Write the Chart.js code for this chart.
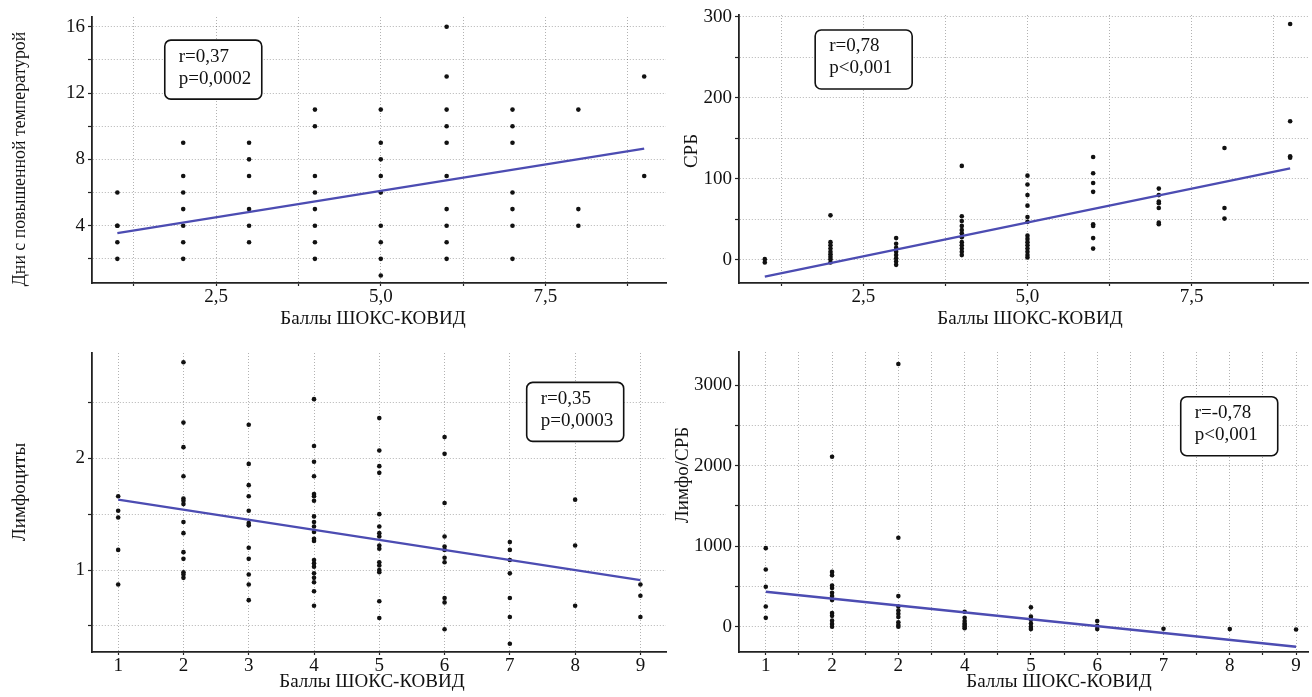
<!DOCTYPE html>
<html>
<head>
<meta charset="utf-8">
<script src="https://cdn.jsdelivr.net/npm/chart.js@4.4.1/dist/chart.umd.min.js"></script>
<style>
  html, body { margin: 0; padding: 0; background: #fff; }
  body { width: 1312px; height: 697px; position: relative; overflow: hidden; }
  canvas { position: absolute; }
</style>
</head>
<body>
<canvas id="c1" width="670" height="340" style="left:0;top:0"></canvas>
<canvas id="c2" width="642" height="340" style="left:670px;top:0"></canvas>
<canvas id="c3" width="670" height="357" style="left:0;top:340px"></canvas>
<canvas id="c4" width="642" height="357" style="left:670px;top:340px"></canvas>
<script>
// баллы ШОКС-КОВИД
const scores = [1, 2, 3, 4, 5, 6, 7, 8, 9];

// значения по каждому баллу (1..9)
const feverDays = [
    [6, 4, 4, 3, 2],
    [9, 7, 6, 5, 4, 3, 2],
    [9, 8, 7, 5, 4, 3],
    [11, 10, 7, 6, 5, 4, 3, 2],
    [11, 9, 8, 7, 6, 4, 3, 2, 1],
    [16, 13, 11, 10, 9, 7, 5, 4, 3, 2],
    [11, 10, 9, 6, 5, 4, 2],
    [11, 5, 4],
    [13, 7]
];
const crp = [
    [1, -3],
    [55, 22, 18, 14, 10, 7, 4, 1, -3],
    [27, 20, 15, 10, 6, 2, -2, -6],
    [116, 54, 48, 42, 37, 33, 28, 22, 18, 14, 10, 6],
    [104, 93, 80, 67, 53, 47, 30, 26, 22, 18, 14, 10, 6, 3],
    [127, 107, 95, 84, 44, 42, 27, 14],
    [88, 80, 72, 70, 64, 46, 44],
    [138, 64, 51],
    [291, 171, 128, 126]
];
const lymph = [
    [1.66, 1.53, 1.47, 1.18, 0.87],
    [2.86, 2.32, 2.1, 1.84, 1.64, 1.62, 1.59, 1.43, 1.33, 1.16, 1.1, 0.98, 0.96, 0.93],
    [2.3, 1.95, 1.76, 1.66, 1.53, 1.42, 1.4, 1.2, 1.1, 0.96, 0.87, 0.73],
    [2.53, 2.11, 1.97, 1.84, 1.68, 1.66, 1.62, 1.48, 1.43, 1.39, 1.34, 1.28, 1.26, 1.09, 1.06, 1.03, 0.97, 0.93, 0.89, 0.81, 0.68],
    [2.36, 2.07, 1.93, 1.87, 1.5, 1.39, 1.33, 1.3, 1.22, 1.19, 1.07, 1.04, 1.0, 0.98, 0.72, 0.57],
    [2.19, 2.04, 1.6, 1.3, 1.21, 1.18, 1.11, 1.07, 0.75, 0.71, 0.47],
    [1.25, 1.18, 1.09, 0.97, 0.75, 0.58, 0.34],
    [1.63, 1.22, 0.68],
    [0.87, 0.77, 0.58]
];
const lymphCrp = [
    [975, 710, 495, 250, 110],
    [2110, 680, 640, 510, 480, 420, 380, 330, 170, 135, 75, 35, 0],
    [3260, 1105, 380, 250, 200, 160, 120, 55, 20, 0],
    [185, 110, 70, 40, 20, 0, -20],
    [240, 125, 85, 40, 0, -30],
    [70, 10, -30],
    [-25],
    [-30],
    [-35]
];

// линии регрессии: значение при балле 1 и при балле 9
const feverFit = [3.55, 8.65];
const crpFit = [-20.5, 113];
const lymphFit = [1.63, 0.91];
const lymphCrpFit = [434, -248];

// подписи делений
const quarterTicks = [1.25, 2.5, 3.75, 5, 6.25, 7.5, 8.75];
const quarterLabels = ['', '2,5', '', '5,0', '', '7,5', ''];
const scoreTicks = [1, 2, 3, 4, 5, 6, 7, 8, 9];
const scoreLabels = ['1', '2', '3', '4', '5', '6', '7', '8', '9'];
const halfScoreTicks = [1, 1.5, 2, 2.5, 3, 3.5, 4, 4.5, 5, 5.5, 6, 6.5, 7, 7.5, 8, 8.5, 9];
const halfScoreLabels = ['1', '', '2', '', '2', '', '4', '', '5', '', '6', '', '7', '', '8', '', '9'];
const feverTicks = [2, 4, 6, 8, 10, 12, 14, 16];
const feverLabels = ['', '4', '', '8', '', '12', '', '16'];
const crpTicks = [0, 50, 100, 150, 200, 250, 300];
const crpLabels = ['0', '', '100', '', '200', '', '300'];
const lymphTicks = [0.5, 1, 1.5, 2, 2.5];
const lymphLabels = ['', '1', '', '2', ''];
const ratioTicks = [0, 500, 1000, 1500, 2000, 2500, 3000];
const ratioLabels = ['0', '', '1000', '', '2000', '', '3000'];

const xTitle = 'Баллы ШОКС-КОВИД';
const SERIF = '"Liberation Serif", "Times New Roman", serif';

// подписи осей и рамка с r/p
const panelText = {
    id: 'panelText',
    afterDraw(chart, args, o) {
        const ctx = chart.ctx;
        const sx = chart.scales.x, sy = chart.scales.y;
        ctx.save();
        ctx.font = '19px ' + SERIF;
        ctx.fillStyle = '#111';
        ctx.textBaseline = 'middle';
        ctx.textAlign = 'center';
        ctx.fillText(o.xTitle, o.xTitleAt[0], o.xTitleAt[1]);

        ctx.save();
        ctx.font = (o.yTitleSize || 19) + 'px ' + SERIF;
        ctx.translate(o.yTitleAt[0], o.yTitleAt[1]);
        ctx.rotate(-Math.PI / 2);
        ctx.fillText(o.yTitle, 0, 0);
        ctx.restore();

        const bx = sx.getPixelForValue(o.boxAt[0]);
        const by = sy.getPixelForValue(o.boxAt[1]);
        ctx.beginPath();
        ctx.roundRect(bx, by, 97, 59, 6);
        ctx.fillStyle = '#fff';
        ctx.fill();
        ctx.lineWidth = 1.6;
        ctx.strokeStyle = '#111';
        ctx.stroke();
        ctx.fillStyle = '#111';
        ctx.textAlign = 'left';
        o.lines.forEach((t, i) => ctx.fillText(t, bx + 14, by + 16.5 + i * 22));
        ctx.restore();
    }
};

function axis(range, ticks, labels, dir, size) {
    const horiz = dir === 'x';
    return {
        type: 'linear',
        position: horiz ? 'bottom' : 'left',
        min: range[0],
        max: range[1],
        bounds: 'data',
        afterBuildTicks: s => { s.ticks = ticks.map(v => ({ value: v })); },
        afterFit: s => {
            if (horiz) s.height = size; else s.width = size;
            s.paddingTop = s.paddingBottom = s.paddingLeft = s.paddingRight = 0;
        },
        grid: {
            color: 'rgba(0,0,0,0.3)',
            lineWidth: 1,
            tickLength: horiz ? 3 : 4,
            tickColor: '#222',
            tickWidth: 1.2
        },
        border: { color: '#222', width: 1.8, dash: [1, 2] },
        ticks: {
            font: { family: SERIF, size: 19 },
            color: '#111',
            padding: horiz ? 0 : 3,
            maxRotation: 0,
            autoSkip: false,
            callback: (v, i) => labels[i]
        }
    };
}

function makePanel(id, p) {
    const canvas = document.getElementById(id);
    const W = canvas.width, H = canvas.height;
    const a = p.area; // left, top, right, bottom
    const points = scores.flatMap((s, i) => p.values[i].map(v => ({ x: s, y: v })));
    const fit = [
        { x: scores[0], y: p.fit[0] },
        { x: scores[scores.length - 1], y: p.fit[1] }
    ];
    new Chart(canvas, {
        type: 'scatter',
        data: {
            datasets: [
                { data: fit, showLine: true, borderColor: 'rgb(76,76,178)', borderWidth: 2.4, pointRadius: 0 },
                { data: points, pointRadius: 2.3, pointBackgroundColor: '#111', pointBorderWidth: 0 }
            ]
        },
        options: {
            responsive: false,
            animation: false,
            layout: { padding: { top: a[1], right: W - a[2], left: 0, bottom: 0 } },
            plugins: {
                legend: { display: false },
                tooltip: { enabled: false },
                panelText: p.text
            },
            scales: {
                x: axis(p.xRange, p.xTicks, p.xLabels, 'x', H - a[3]),
                y: axis(p.yRange, p.yTicks, p.yLabels, 'y', a[0])
            }
        },
        plugins: [panelText]
    });
}

makePanel('c1', {
    area: [92, 17, 669, 283],
    values: feverDays, fit: feverFit,
    xRange: [0.615, 9.331], xTicks: quarterTicks, xLabels: quarterLabels,
    yRange: [0.545, 16.585], yTicks: feverTicks, yLabels: feverLabels,
    text: {
        xTitle: xTitle, xTitleAt: [373, 319],
        yTitle: 'Дни с повышенной температурой', yTitleAt: [20, 159], yTitleSize: 17.8,
        boxAt: [1.72, 15.19], lines: ['r=0,37', 'p=0,0002']
    }
});

makePanel('c2', {
    area: [69, 15, 642, 283],
    values: crp, fit: crpFit,
    xRange: [0.607, 9.272], xTicks: quarterTicks, xLabels: quarterLabels,
    yRange: [-28.4, 302.1], yTicks: crpTicks, yLabels: crpLabels,
    text: {
        xTitle: xTitle, xTitleAt: [360, 319],
        yTitle: 'СРБ', yTitleAt: [22, 151],
        boxAt: [1.767, 283.6], lines: ['r=0,78', 'p<0,001']
    }
});

makePanel('c3', {
    area: [92, 13, 669, 312],
    values: lymph, fit: lymphFit,
    xRange: [0.599, 9.392], xTicks: scoreTicks, xLabels: scoreLabels,
    yRange: [0.266, 2.943], yTicks: lymphTicks, yLabels: lymphLabels,
    text: {
        xTitle: xTitle, xTitleAt: [372, 342],
        yTitle: 'Лимфоциты', yTitleAt: [20, 152],
        boxAt: [7.258, 2.68], lines: ['r=0,35', 'p=0,0003']
    }
});

makePanel('c4', {
    area: [69, 12, 642, 312],
    values: lymphCrp, fit: lymphCrpFit,
    xRange: [0.596, 9.18], xTicks: halfScoreTicks, xLabels: halfScoreLabels,
    yRange: [-314, 3409.6], yTicks: ratioTicks, yLabels: ratioLabels,
    text: {
        xTitle: xTitle, xTitleAt: [389, 342],
        yTitle: 'Лимфо/СРБ', yTitleAt: [13, 135],
        boxAt: [7.26, 2855], lines: ['r=-0,78', 'p<0,001']
    }
});
</script>
</body>
</html>
